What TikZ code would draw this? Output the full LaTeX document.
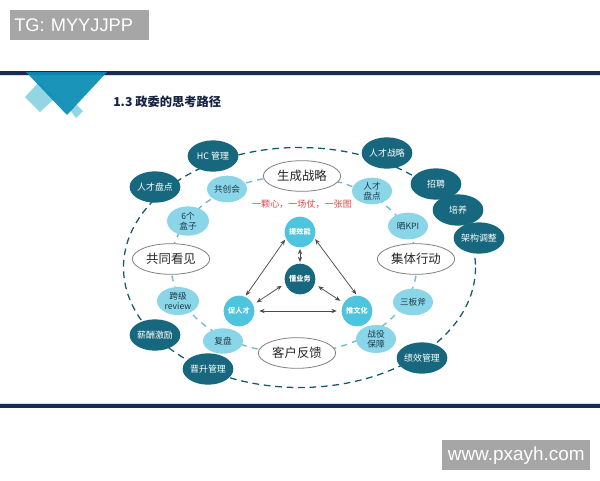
\documentclass[tikz,border=0pt]{standalone}
\usepackage{fontspec}
\usetikzlibrary{shapes.geometric,arrows.meta}
\setmainfont{Liberation Sans}
\newfontfamily\cjk{Noto Sans CJK SC}
\definecolor{navy}{HTML}{1B2B55}
\definecolor{barglow}{HTML}{CFE2EC}
\definecolor{teal1}{HTML}{17687E}
\definecolor{lite}{HTML}{8AD6E8}
\definecolor{circ}{HTML}{4FC4DE}
\definecolor{ban}{HTML}{0A8CB4}
\definecolor{ban2}{HTML}{93D5E3}
\definecolor{inktxt}{HTML}{1D3A4C}
\definecolor{redt}{HTML}{E0474A}
\definecolor{boxg}{HTML}{A6A6A6}
\tikzset{
  dk/.style={ellipse,fill=teal1,text=white,minimum width=38pt,minimum height=23.5pt,inner sep=0pt,font=\cjk\fontsize{6.7}{7.6}\selectfont},
  lt/.style={ellipse,fill=lite,text=inktxt,minimum width=30pt,minimum height=20pt,inner sep=0pt,align=center,font=\cjk\fontsize{6.5}{7.4}\selectfont},
  wh/.style={ellipse,draw=black!50,line width=.6pt,fill=white,text=black!85,minimum width=58pt,minimum height=23pt,inner sep=0pt,font=\cjk\fontsize{9.3}{10.5}\selectfont},
  ci/.style={circle,fill=circ,text=white,minimum size=23pt,inner sep=0pt,font=\cjk\bfseries\fontsize{5.4}{6.4}\selectfont},
  cd/.style={ci,fill=teal1},
  twoway/.style={{Stealth[length=4pt,width=3.2pt]}-{Stealth[length=4pt,width=3.2pt]},draw=black!70,line width=.55pt},
  outerring/.style={draw=teal1!85!black,line width=.95pt,dash pattern=on 5pt off 3.6pt},
  innerring/.style={draw=lite!75!teal1,line width=1pt,dash pattern=on 4.5pt off 4pt},
  graybox/.style={fill=boxg,text=white,inner sep=0pt,minimum height=22.5pt}
}
\begin{document}
\begin{tikzpicture}[x=0.75pt,y=-0.75pt]
\useasboundingbox (0,0) rectangle (600,480);
\fill[white] (0,0) rectangle (600,480);
% bars
\fill[barglow] (0,75) rectangle (600,76);
\fill[navy] (0,71) rectangle (600,75);
\fill[barglow] (0,403) rectangle (600,404);
\fill[navy] (0,404) rectangle (600,407.5);
% banner
\fill[ban2] (25,97) -- (39,82) -- (55,98) -- (40,112) -- cycle;
\fill[ban2] (70,110) -- (77,105) -- (83,111) -- (76,118) -- cycle;
\fill[ban,opacity=.93] (26,72) -- (107,72) -- (67,115) -- cycle;
% gray boxes
\node[graybox,anchor=north west,minimum width=104.25pt,text width=104.25pt,align=left,font=\fontsize{13.7}{15}\selectfont] (tg) at (10,10) {\hspace*{3pt}TG: MYYJJPP};
\node[graybox,anchor=north west,minimum width=111pt,align=center,font=\fontsize{14.2}{16}\selectfont] (web) at (442,440) {www.pxayh.com};
% title
\node[anchor=west,inner sep=0pt,text=navy!80!black,font=\cjk\bfseries\fontsize{9.2}{11}\selectfont] (title) at (113,102) {1.3 政委的思考路径};
% rings
\draw[outerring] (299.5,267.5) ellipse [x radius=176,y radius=120];
\draw[innerring] (294,264.5) ellipse [x radius=123,y radius=88.5];
% outer nodes
\node[dk] (hc) at (213,156) {HC 管理};
\node[dk] (rcpd) at (155,187) {人才盘点};
\node[dk] (rczl) at (387,153) {人才战略};
\node[dk] (zp) at (436,184) {招聘};
\node[dk] (py) at (458,210) {培养};
\node[dk] (jg) at (479,238) {架构调整};
\node[dk] (xc) at (155,335) {薪酬激励};
\node[dk] (js) at (208,369) {晋升管理};
\node[dk] (jx) at (422,358) {绩效管理};
% ring nodes
\node[lt] (gch) at (227,189) {共创会};
\node[lt,minimum width=31.5pt,minimum height=22pt] (hz) at (188,221) {6个\\盒子};
\node[lt] (pd) at (372,191) {人才\\盘点};
\node[lt] (kpi) at (408,226) {晒KPI};
\node[lt,minimum width=31.5pt,minimum height=21pt] (kj) at (178,301) {跨级\\review};
\node[lt,minimum height=19pt] (fp) at (223,341) {复盘};
\node[lt] (sbf) at (413,302) {三板斧};
\node[lt,minimum height=21pt] (zy) at (376,339) {战役\\保障};
% white ellipses
\node[wh] (sc) at (302,176) {生成战略};
\node[wh] (gt) at (171,259) {共同看见};
\node[wh] (jt) at (416,259) {集体行动};
\node[wh] (kh) at (297,353) {客户反馈};
% red text
\node[inner sep=0pt,text=redt,font=\cjk\fontsize{6.8}{8}\selectfont] (slogan) at (302,204) {一颗心，一场仗，一张图};
% triangle
\node[ci] (tx) at (300,232) {提效能};
\node[cd] (db) at (300,279) {懂业务};
\node[ci] (cr) at (239,311) {促人才};
\node[ci] (tw) at (357,311) {推文化};
\draw[twoway,shorten <=1pt,shorten >=1pt] (tx.205) -- (cr.67);
\draw[twoway,shorten <=1pt,shorten >=1pt] (tx.337) -- (tw.90);
\draw[twoway,shorten <=3.5pt,shorten >=3.5pt] (cr.0) -- (tw.180);
\draw[twoway,shorten <=1pt,shorten >=1pt] (tx.270) -- (db.90);
\draw[twoway,shorten <=3pt,shorten >=3pt] (db.197) -- (cr.24);
\draw[twoway,shorten <=3pt,shorten >=3pt] (db.341) -- (tw.149);
\end{tikzpicture}
\end{document}
